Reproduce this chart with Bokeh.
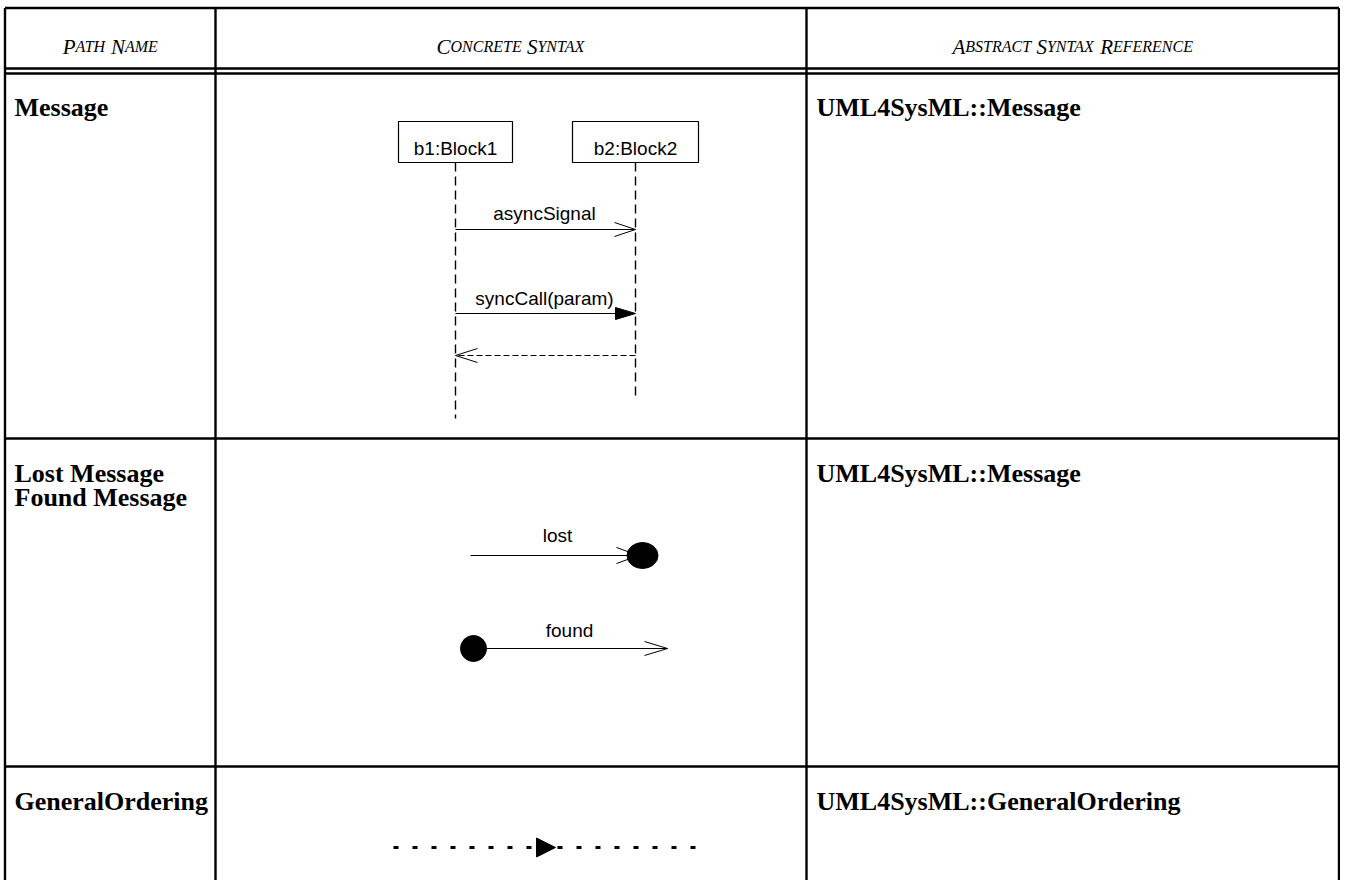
from bokeh.plotting import figure
from bokeh.models import Range1d
from bokeh.core.properties import value
from bokeh.embed import file_html
from bokeh.resources import INLINE

# ---------------- data (texts) ----------------
header_titles = ["Path Name", "Concrete Syntax", "Abstract Syntax Reference"]
path_names = [["Message"], ["Lost Message", "Found Message"], ["GeneralOrdering"]]
abstract_refs = ["UML4SysML::Message", "UML4SysML::Message", "UML4SysML::GeneralOrdering"]
lifeline_names = ["b1:Block1", "b2:Block2"]
message_labels = ["asyncSignal", "syncCall(param)"]
lost_found_labels = ["lost", "found"]

# ---------------- layout ----------------
W, H = 1340, 880
X0, Y0 = 0, 0
col_x = [4.5, 215, 806, 1338.5]
top_y = 7.5
hdr_y = [68, 73]
row_y = [73, 438, 766]
bottom_y = 900
row_base = [107, 473, 801]
line_gap = 24

SERIF = value("Liberation Serif")
SANS = value("Liberation Sans")

p = figure(width=W, height=H, x_range=Range1d(X0, X0 + W), y_range=Range1d(Y0 + H, Y0),
           output_backend="svg", toolbar_location=None, min_border=0,
           x_axis_location=None, y_axis_location=None)
p.grid.visible = False
p.outline_line_color = None
p.background_fill_color = "white"
p.border_fill_color = "white"

# table lines
vx = col_x
p.segment(x0=vx, y0=[top_y] * 4, x1=vx, y1=[bottom_y] * 4, line_color="black", line_width=2.4)
hys = [top_y] + hdr_y + row_y[1:]
p.segment(x0=[col_x[0]] * len(hys), y0=hys, x1=[col_x[-1]] * len(hys), y1=hys,
          line_color="black", line_width=2.4)

# small caps headers
TI = {'A': 611, 'B': 611, 'C': 667, 'D': 722, 'E': 611, 'F': 611, 'G': 722, 'H': 722, 'I': 333,
      'J': 444, 'K': 667, 'L': 556, 'M': 833, 'N': 667, 'O': 722, 'P': 611, 'Q': 722, 'R': 611,
      'S': 500, 'T': 556, 'U': 722, 'V': 611, 'W': 833, 'X': 611, 'Y': 556, 'Z': 556, ' ': 250}
BIG, SMALL = 21, 16


def smallcaps(text, cx, base):
    words = text.upper().split()
    pieces = []
    for i, w in enumerate(words):
        pieces.append((w[0], BIG))
        pieces.append((w[1:], SMALL))
        if i < len(words) - 1:
            pieces.append((" ", BIG))
    widths = [sum(TI[c] for c in s) * sz / 1000 for s, sz in pieces]
    x = cx - sum(widths) / 2
    xs, ts, szs = [], [], []
    for (s, sz), w in zip(pieces, widths):
        if s.strip():
            xs.append(x)
            ts.append(s)
            szs.append(sz)
        x += w
    for sz in (BIG, SMALL):
        sel = [i for i in range(len(ts)) if szs[i] == sz]
        p.text(x=[xs[i] for i in sel], y=[base] * len(sel), text=[ts[i] for i in sel],
               text_font=SERIF, text_font_style="italic", text_font_size=value(f"{sz}px"),
               text_align="left", text_baseline="alphabetic", text_color="black")


for i, t in enumerate(header_titles):
    smallcaps(t, (col_x[i] + col_x[i + 1]) / 2, 46)

# row labels and abstract references
lx, ly, lt = [], [], []
for r, names in enumerate(path_names):
    for k, n in enumerate(names):
        lx.append(14)
        ly.append(row_base[r] + k * line_gap)
        lt.append(n)
for r, ref in enumerate(abstract_refs):
    lx.append(816)
    ly.append(row_base[r])
    lt.append(ref)
p.text(x=lx, y=ly, text=lt, text_font=SERIF, text_font_style="bold",
       text_font_size=value("26px"), text_align="left", text_baseline="alphabetic",
       text_color="black")

# ---------------- row 1 : sequence diagram ----------------
ll_x = [455, 635]
box_w = [114, 126]
box_top, box_bot = 121, 162
ll_end = [418, 398]
p.quad(left=[x - w / 2 for x, w in zip(ll_x, box_w)], right=[x + w / 2 for x, w in zip(ll_x, box_w)],
       top=[box_top] * 2, bottom=[box_bot] * 2, fill_color="white", line_color="black", line_width=1.2)
p.text(x=ll_x, y=[148] * 2, text=lifeline_names, text_font=SANS, text_font_size=value("19px"),
       text_align="center", text_baseline="alphabetic", text_color="black")
p.segment(x0=ll_x, y0=[box_bot] * 2, x1=ll_x, y1=ll_end, line_color="black", line_width=1.4,
          line_dash="9 5")

msg_y = [229, 313, 355]
# async
p.segment(x0=[ll_x[0]], y0=[msg_y[0]], x1=[ll_x[1]], y1=[msg_y[0]], line_color="black", line_width=1)
p.line(x=[ll_x[1] - 21, ll_x[1], ll_x[1] - 21], y=[msg_y[0] - 7, msg_y[0], msg_y[0] + 7],
       line_color="black", line_width=1)
# sync
p.segment(x0=[ll_x[0]], y0=[msg_y[1]], x1=[ll_x[1] - 18], y1=[msg_y[1]], line_color="black", line_width=1)
p.patch(x=[ll_x[1] - 20, ll_x[1], ll_x[1] - 20], y=[msg_y[1] - 6, msg_y[1], msg_y[1] + 6],
        fill_color="black", line_color="black", line_width=1)
# reply
p.segment(x0=[ll_x[1]], y0=[msg_y[2]], x1=[ll_x[0]], y1=[msg_y[2]], line_color="black", line_width=1,
          line_dash="6 3")
p.line(x=[ll_x[0] + 22, ll_x[0], ll_x[0] + 22], y=[msg_y[2] - 7, msg_y[2], msg_y[2] + 7],
       line_color="black", line_width=1)
mid = (ll_x[0] + ll_x[1]) / 2 - 1
p.text(x=[mid, mid], y=[213, 298], text=message_labels, text_font=SANS, text_font_size=value("19px"),
       text_align="center", text_baseline="alphabetic", text_color="black")

# ---------------- row 2 : lost / found ----------------
lost_y, found_y = 555, 648
p.segment(x0=[470], y0=[lost_y], x1=[632], y1=[lost_y], line_color="black", line_width=1)
p.line(x=[616, 638, 616], y=[lost_y - 8, lost_y, lost_y + 8], line_color="black", line_width=1)
p.ellipse(x=[642], y=[lost_y], width=[31], height=[26], fill_color="black", line_color="black")
p.ellipse(x=[473], y=[found_y], width=[26], height=[26], fill_color="black", line_color="black")
p.segment(x0=[473], y0=[found_y], x1=[667], y1=[found_y], line_color="black", line_width=1)
p.line(x=[644, 667, 644], y=[found_y - 7, found_y, found_y + 7], line_color="black", line_width=1)
p.text(x=[557, 569], y=[535, 630], text=lost_found_labels, text_font=SANS,
       text_font_size=value("19px"), text_align="center", text_baseline="alphabetic",
       text_color="black")

# ---------------- row 3 : general ordering ----------------
go_y = 847
p.segment(x0=[393], y0=[go_y], x1=[536], y1=[go_y], line_color="black", line_width=3,
          line_dash="5 14")
p.segment(x0=[555], y0=[go_y], x1=[700], y1=[go_y], line_color="black", line_width=3,
          line_dash="5 14", line_dash_offset=-2)
p.patch(x=[536, 555, 536], y=[go_y - 9.5, go_y, go_y + 9.5], fill_color="black", line_color="black")

open("out.html", "w").write(file_html(p, INLINE))
